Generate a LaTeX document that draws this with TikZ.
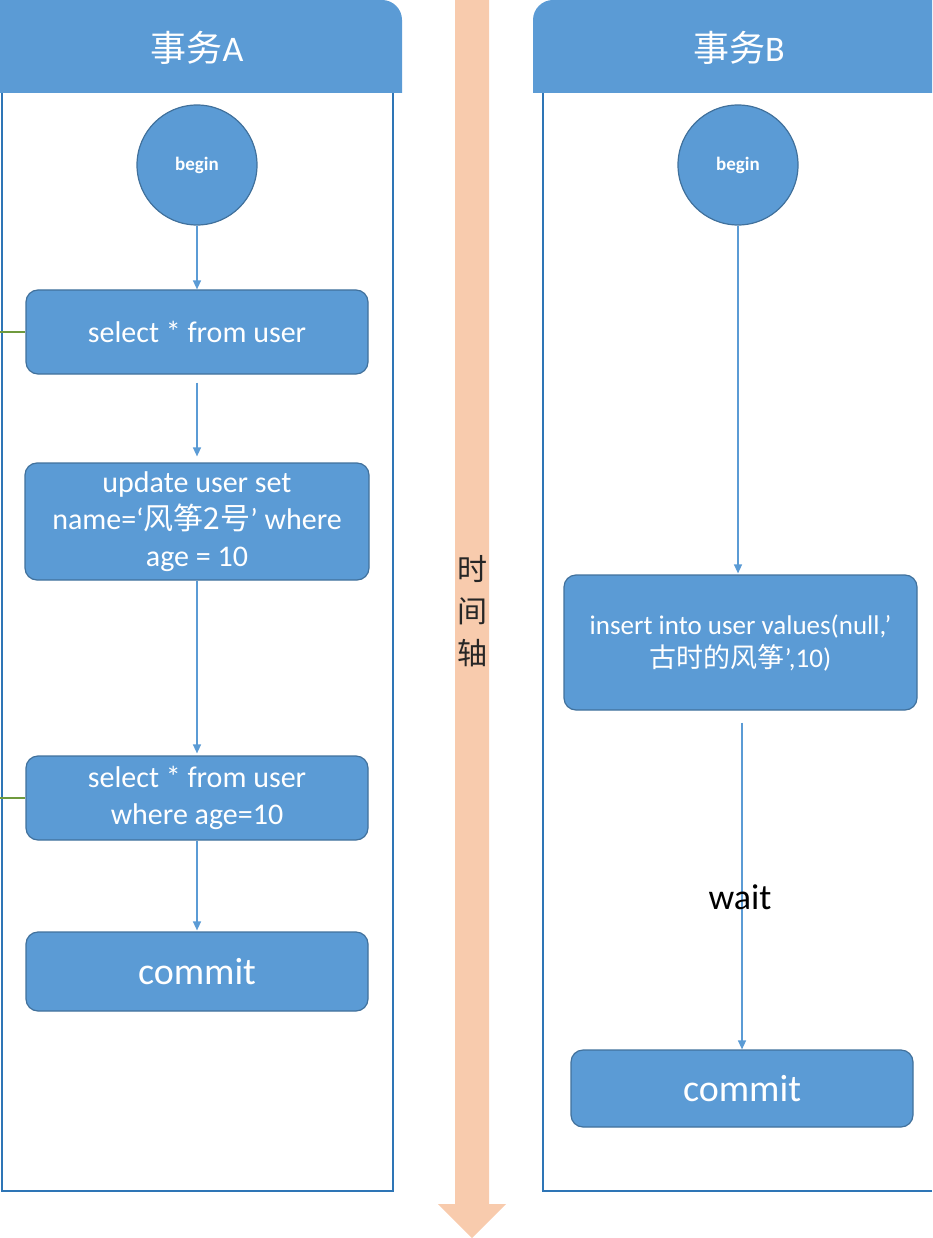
\documentclass[tikz,border=0pt]{standalone}
\usepackage{fontspec}
\setmainfont{Carlito}
\newfontfamily\cjk{Noto Sans CJK SC}
\usetikzlibrary{arrows.meta}

\definecolor{boxblue}{HTML}{5B9BD5}
\definecolor{boxedge}{HTML}{41719C}
\definecolor{laneline}{HTML}{2E75B6}
\definecolor{timeaxis}{HTML}{F8CBAD}
\definecolor{linkgreen}{HTML}{6F9A3E}

\begin{document}
\begin{tikzpicture}[x=1pt,y=-1pt,
    stepbox/.style={draw=boxedge,line width=1.2pt,fill=boxblue,rounded corners=12pt,
      text=white,align=center,inner sep=0pt,font=\fontsize{30}{37}\selectfont},
    startnode/.style={circle,draw=boxedge,line width=1.2pt,fill=boxblue,text=white,
      minimum size=120pt,inner sep=0pt,font=\bfseries\fontsize{19}{22}\selectfont},
    lanetitle/.style={text=white,inner sep=0pt,font=\fontsize{36}{40}\selectfont},
    flow/.style={draw=boxblue,line width=1.4pt,-{Triangle[width=8pt,length=9pt]}},
    link/.style={draw=linkgreen,line width=1.2pt},
    lane/.style={draw=laneline,line width=2pt}]
  \useasboundingbox (0,0) rectangle (932,1238);

  % 时间轴
  \fill[timeaxis] (455,0) -- (489,0) -- (489,1204) -- (506,1204) -- (472,1238)
    -- (438,1204) -- (455,1204) -- cycle;
  \node[align=center,text=black!85,inner sep=0pt,font=\cjk\fontsize{30}{42}\selectfont]
    (axislbl) at (472,611) {时\\间\\轴};

  % 事务A 泳道
  \fill[boxblue] (0,93) -- (0,0) [rounded corners=20pt] -- (402,0) [sharp corners] -- (402,93) -- cycle;
  \draw[lane] (2,93) -- (2,1191) -- (393,1191) -- (393,93);
  \node[lanetitle] (titleA) at (197,48) {{\cjk 事务}A};

  % 事务B 泳道
  \fill[boxblue] (932,93) -- (932,0) [rounded corners=20pt] -- (533,0) [sharp corners] -- (533,93) -- cycle;
  \draw[lane] (932,1191) -- (543,1191) -- (543,93);
  \node[lanetitle] (titleB) at (739,48) {{\cjk 事务}B};

  % 事务A 的步骤
  \node[startnode] (beginA) at (197,165) {begin};
  \node[stepbox,minimum width=342pt,minimum height=84pt] (selA) at (197,332) {select * from user};
  \node[stepbox,minimum width=344pt,minimum height=117pt] (updA) at (197,521.5)
    {update user set\\name=‘{\cjk 风筝2号}’ where\\age = 10};
  \node[stepbox,minimum width=342pt,minimum height=84pt] (sel2A) at (197,798)
    {select * from user\\where age=10};
  \node[stepbox,minimum width=342pt,minimum height=79pt,font=\fontsize{38}{44}\selectfont]
    (comA) at (197,971.5) {commit};

  \draw[flow] (beginA) -- (selA);
  \draw[flow,shorten <=8pt,shorten >=6pt] (selA) -- (updA);
  \draw[flow,shorten >=2pt] (updA) -- (sel2A);
  \draw[flow,shorten >=1pt] (sel2A) -- (comA);

  % 左侧连线
  \coordinate (edgeA1) at (0,332);
  \coordinate (edgeA2) at (0,798);
  \draw[link] (edgeA1) -- (selA.west);
  \draw[link] (edgeA2) -- (sel2A.west);

  % 事务B 的步骤
  \node[startnode] (beginB) at (738,165) {begin};
  \node[stepbox,minimum width=353pt,minimum height=135pt,font=\fontsize{27}{33}\selectfont]
    (insB) at (740.5,642.5) {insert into user values(null,’\\{\cjk 古时的风筝}',10)};
  \node[stepbox,minimum width=342pt,minimum height=77pt,font=\fontsize{38}{44}\selectfont]
    (comB) at (742,1088.5) {commit};

  \draw[flow,shorten >=1pt] (beginB.south) -- (beginB.south |- insB.north);
  \draw[flow,shorten <=12pt] (insB.south -| comB.north) -- (comB.north);
  \node[inner sep=0pt,font=\fontsize{36}{40}\selectfont] (wait) at (740,897) {wait};
\end{tikzpicture}
\end{document}
